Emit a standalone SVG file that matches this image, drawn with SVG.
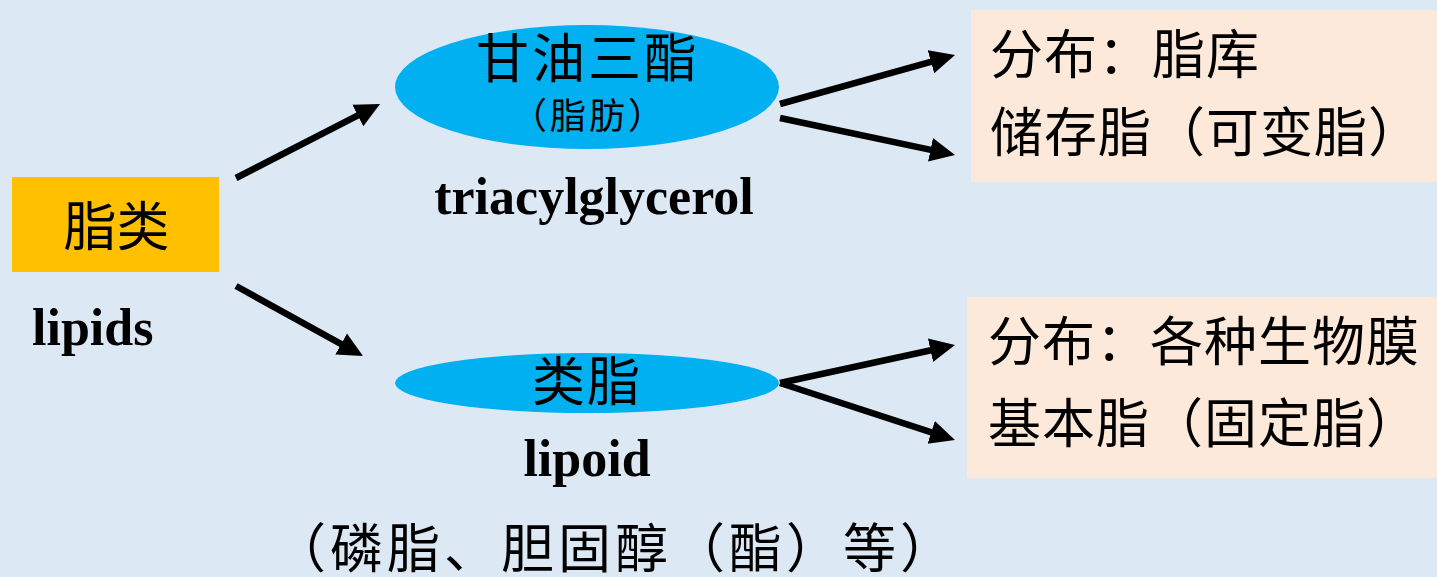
<svg xmlns="http://www.w3.org/2000/svg" width="1437" height="577" viewBox="0 0 1437 577">
  <style>
    .cjk { font-family: "Liberation Serif", "Noto Sans CJK SC", serif; font-size: 53px; fill: #000; letter-spacing: 2px; }
    .box { letter-spacing: 1px; }
    .small { font-size: 36px; letter-spacing: 3px; }
    .lat { font-family: "Liberation Serif", serif; font-weight: bold; font-size: 52px; fill: #000; }
    .conn { stroke: #000; stroke-width: 6.5; fill: none; marker-end: url(#arrow); }
    .ell { fill: #00B0F0; }
    .info { fill: #FDE9D9; }
  </style>
  <defs>
    <marker id="arrow" markerUnits="userSpaceOnUse" markerWidth="26" markerHeight="26" viewBox="0 0 26 26" refX="10" refY="13" orient="auto">
      <path d="M0,1 L25,13 L0,25 z" fill="#000"/>
    </marker>
  </defs>
  <rect x="0" y="0" width="1437" height="577" fill="#DCE8F4"/>

  <g id="lipids">
    <rect x="12" y="177" width="207" height="95" fill="#FFC000"/>
    <text class="cjk" x="116.5" y="246" text-anchor="middle" style="letter-spacing:0">脂类</text>
    <text class="lat" x="32" y="345">lipids</text>
  </g>

  <g id="triglyceride">
    <ellipse class="ell" cx="587" cy="87" rx="192" ry="62"/>
    <text class="cjk" x="588" y="78" text-anchor="middle" style="letter-spacing:3px">甘油三酯</text>
    <text class="cjk small" x="589" y="129" text-anchor="middle">（脂肪）</text>
    <text class="lat" x="594" y="214" text-anchor="middle">triacylglycerol</text>
  </g>

  <g id="lipoid">
    <ellipse class="ell" cx="587" cy="383" rx="192" ry="30"/>
    <text class="cjk" x="587" y="401" text-anchor="middle">类脂</text>
    <text class="lat" x="587" y="476" text-anchor="middle">lipoid</text>
    <text class="cjk" x="615" y="568" text-anchor="middle" style="letter-spacing:4px">（磷脂、胆固醇（酯）等）</text>
  </g>

  <g id="storage">
    <rect class="info" x="971" y="10" width="466" height="172"/>
    <text class="cjk box" x="990" y="74">分布：脂库</text>
    <text class="cjk box" x="990" y="152">储存脂（可变脂）</text>
  </g>

  <g id="structural">
    <rect class="info" x="967" y="297" width="470" height="181"/>
    <text class="cjk box" x="988" y="361">分布：各种生物膜</text>
    <text class="cjk box" x="988" y="443">基本脂（固定脂）</text>
  </g>

  <g id="connectors">
    <path class="conn" d="M236,178 L366.7,110.9"/>
    <path class="conn" d="M236,286 L349.9,348.8"/>
    <path class="conn" d="M780,104 L940.6,59.1"/>
    <path class="conn" d="M780,118 L940.3,151.9"/>
    <path class="conn" d="M780,383 L940.3,348.2"/>
    <path class="conn" d="M780,383 L940.7,435.4"/>
  </g>
</svg>
